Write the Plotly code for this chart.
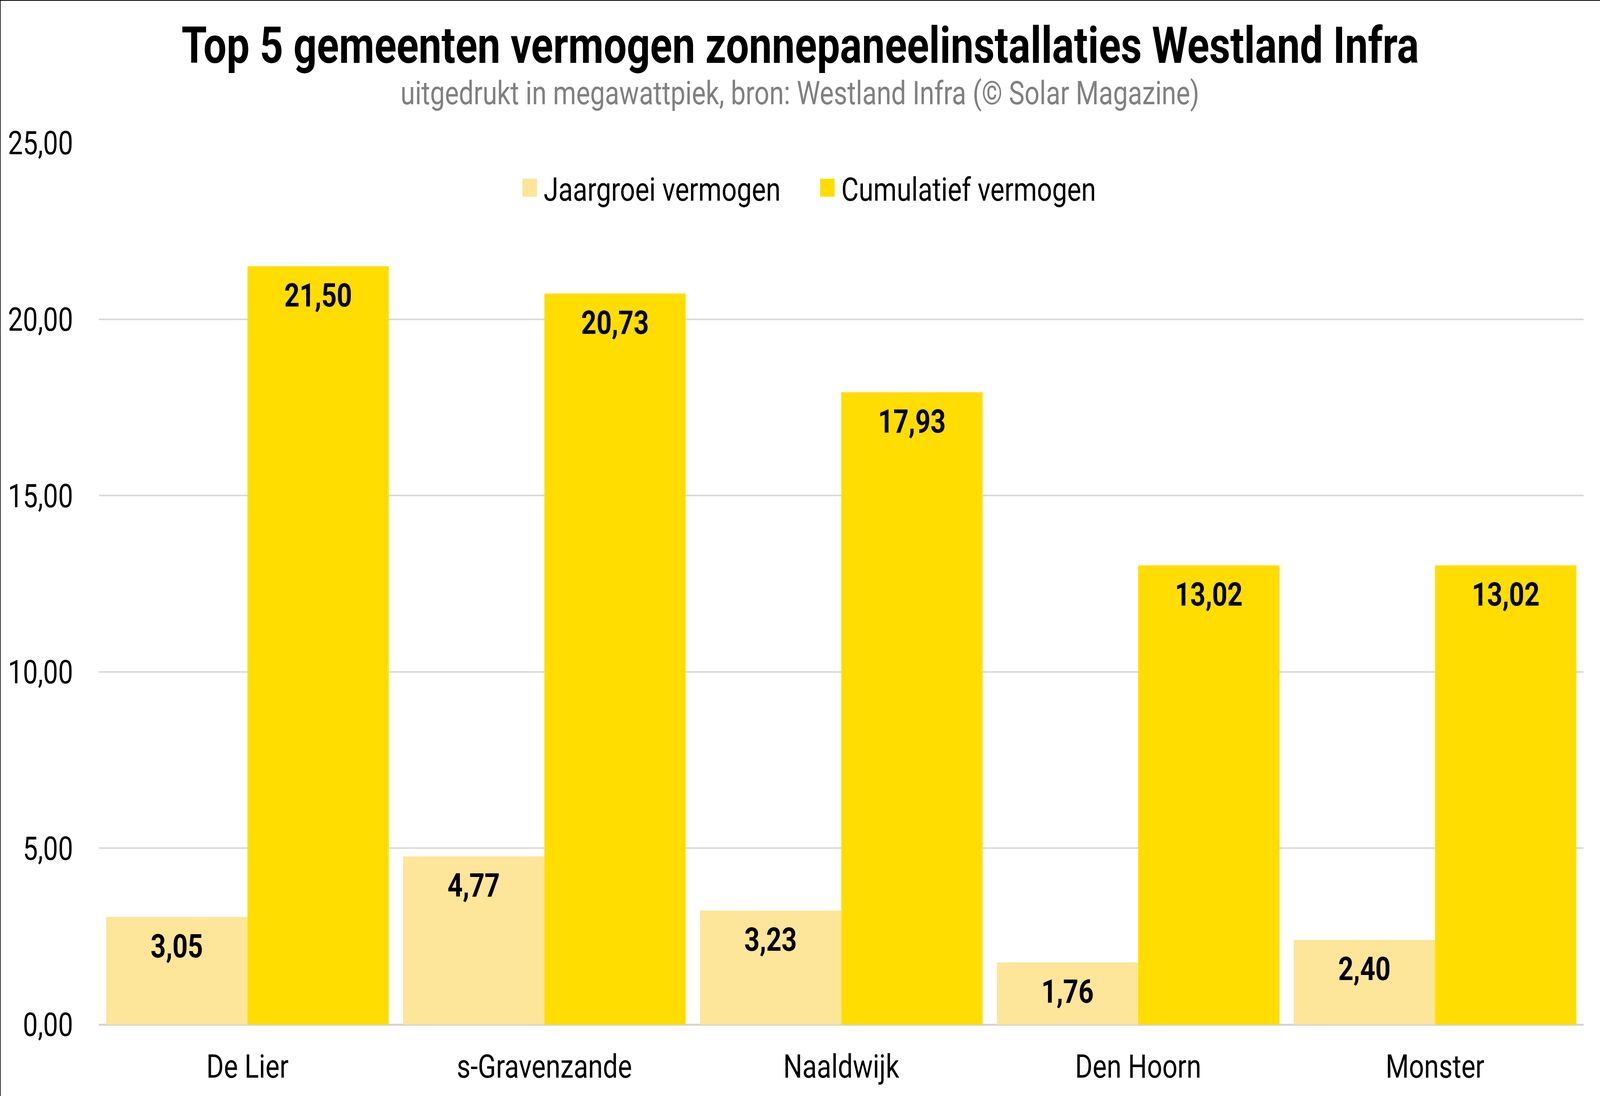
import plotly.graph_objects as go

categories = ["De Lier", "s-Gravenzande", "Naaldwijk", "Den Hoorn", "Monster"]
jaargroei = [3.05, 4.77, 3.23, 1.76, 2.40]
cumulatief = [21.50, 20.73, 17.93, 13.02, 13.02]
series_names = ["Jaargroei vermogen", "Cumulatief vermogen"]
y_ticks = [0, 5, 10, 15, 20, 25]

W, H = 5042, 2807
ML, MR, MT, MB = 312, 52, 366, 183
FONT = "Roboto"

def fmt(v):
    return f"{v:.2f}".replace(".", ",")

fig = go.Figure()
for name, vals, color in [(series_names[0], jaargroei, "#FDE599"),
                          (series_names[1], cumulatief, "#FFDD00")]:
    fig.add_trace(go.Bar(
        x=categories, y=vals, name=name,
        marker=dict(color=color, line=dict(width=0)),
        text=[fmt(v) for v in vals],
        textposition="inside", insidetextanchor="end",
        textangle=0, constraintext="none",
        textfont=dict(family=FONT, size=84, color="#000000", weight="bold"),
    ))

pw, ph = W - ML - MR, H - MT - MB
cx = (W / 2 - ML) / pw

fig.update_layout(
    width=W, height=H,
    margin=dict(l=ML, r=MR, t=MT, b=MB, pad=0),
    paper_bgcolor="white", plot_bgcolor="white",
    barmode="group", bargap=0.048, bargroupgap=0,
    separators=",.",
    font=dict(family=FONT, color="#000000"),
    showlegend=True,
    legend=dict(orientation="h", x=0.291, xanchor="left", y=0.949, yanchor="middle",
                font=dict(family=FONT, size=84, color="#000000"),
                bgcolor="rgba(0,0,0,0)", entrywidth=893, entrywidthmode="pixels"),
    xaxis=dict(showgrid=False, showline=False, zeroline=False,
               ticks="outside", ticklen=34, tickcolor="rgba(0,0,0,0)",
               tickfont=dict(family=FONT, size=84, color="#000000")),
    yaxis=dict(range=[0, 25], tickvals=y_ticks, tickformat=".2f",
               showgrid=True, gridcolor="#D9D9D9", gridwidth=4,
               zeroline=True, zerolinecolor="#D6D3D0", zerolinewidth=5,
               showline=False,
               ticks="outside", ticklen=64, tickcolor="rgba(0,0,0,0)",
               tickfont=dict(family=FONT, size=84, color="#000000")),
    annotations=[
        dict(text="<b>Top 5 gemeenten vermogen zonnepaneelinstallaties Westland Infra</b>",
             xref="paper", yref="paper", x=cx,
             y=1 + (MT - 116) / ph, xanchor="center", yanchor="middle",
             showarrow=False, font=dict(family=FONT, size=129, color="#000000")),
        dict(text="uitgedrukt in megawattpiek, bron: Westland Infra (© Solar Magazine)",
             xref="paper", yref="paper", x=cx,
             y=1 + (MT - 238) / ph, xanchor="center", yanchor="middle",
             showarrow=False, font=dict(family=FONT, size=83, color="#808080")),
    ],
)

# thin frame on top and left edges of the figure
x0, x1 = -ML / pw, 1 + MR / pw
y0, y1 = -MB / ph, 1 + MT / ph
fig.add_shape(type="line", xref="paper", yref="paper", x0=x0, x1=x1, y0=y1, y1=y1,
              line=dict(color="#000000", width=4))
fig.add_shape(type="line", xref="paper", yref="paper", x0=x0, x1=x0, y0=y0, y1=y1,
              line=dict(color="#000000", width=4))

post = """
var gd = document.getElementById('{plot_id}');
function fitFig(){
  document.documentElement.style.margin='0';
  document.body.style.margin='0';
  document.documentElement.style.overflow='hidden';
  document.body.style.overflow='hidden';
  var w = window.innerWidth, h = window.innerHeight;
  var sx = w / %d, sy = h / %d;
  gd.style.transformOrigin = '0 0';
  gd.style.transform = 'scale(' + sx + ',' + sy + ')';
}
function tweak(){
  gd.querySelectorAll('.legend .scrollbox').forEach(function(s){
    s.removeAttribute('clip-path');
  });
  gd.querySelectorAll('.legend .legendpoints path').forEach(function(p){
    p.setAttribute('d', 'M-23,-23H23V23H-23Z');
    p.setAttribute('transform', 'translate(-4,0)');
  });
  gd.querySelectorAll('.barlayer .bartext').forEach(function(t){
    var tr = t.getAttribute('transform') || '';
    if (tr.indexOf('translate(0,22)') !== 0) {
      t.setAttribute('transform', 'translate(0,22) ' + tr);
    }
  });
}
fitFig(); tweak();
gd.on('plotly_afterplot', tweak);
window.addEventListener('resize', fitFig);
""" % (W, H)

fig.write_html("out.html", post_script=post, config={"displayModeBar": False})
